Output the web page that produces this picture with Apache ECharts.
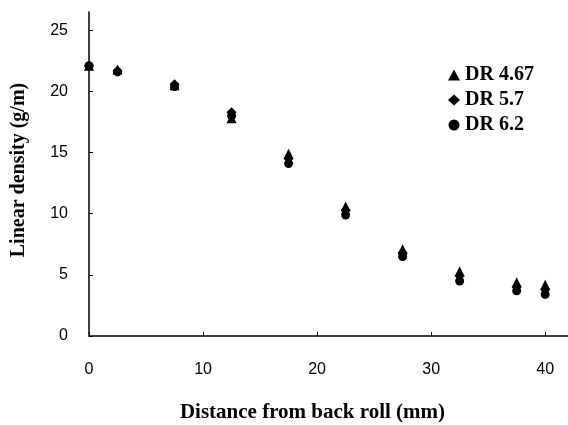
<!DOCTYPE html>
<html>
<head>
<meta charset="utf-8">
<script src="https://cdn.jsdelivr.net/npm/echarts@6/dist/echarts.min.js"></script>
<style>
  html, body { margin: 0; padding: 0; background: #fff; }
  #chart { width: 568px; height: 425px; }
</style>
</head>
<body>
<div id="chart"></div>
<script>
// distance from back roll (mm)
const distance = [0, 2.5, 7.5, 12.5, 17.5, 22.5, 27.5, 32.5, 37.5, 40];
// linear density (g/m) per draft ratio
const dr467 = [22.1, 21.8, 20.5, 17.8, 14.9, 10.6, 7.1, 5.3, 4.4, 4.2];
const dr57  = [22.1, 21.7, 20.6, 18.3, 14.5, 10.3, 6.8, 4.9, 4.0, 3.8];
const dr62  = [22.1, 21.6, 20.4, 18.0, 14.1, 9.9, 6.5, 4.5, 3.7, 3.4];
const seriesNames = ["DR 4.67", "DR 5.7", "DR 6.2"];
const xTicks = [0, 10, 20, 30, 40];
const yTicks = [0, 5, 10, 15, 20, 25];

const SERIF = "'Liberation Serif', 'DejaVu Serif', serif";
const SANS = "'Liberation Sans', Arial, sans-serif";
const pts = (ys) => distance.map((x, i) => [x, ys[i]]);

const chart = echarts.init(document.getElementById("chart"), null, { renderer: "canvas" });
chart.setOption({
  animation: false,
  grid: { left: 89, right: 0, top: 12, bottom: 89, containLabel: false, outerBoundsMode: "none" },
  legend: {
    orient: "vertical", left: 443, top: 60, itemGap: 5, itemWidth: 12, itemHeight: 11,
    textStyle: { fontFamily: SERIF, fontWeight: "bold", fontSize: 20, color: "#000" },
    data: [
      { name: seriesNames[0], icon: "triangle" },
      { name: seriesNames[1], icon: "diamond" },
      { name: seriesNames[2], icon: "circle" },
    ],
  },
  xAxis: {
    type: "value", min: 0, max: 42, interval: 10,
    name: "Distance from back roll (mm)", nameLocation: "middle", nameGap: 66,
    nameTextStyle: { fontFamily: SERIF, fontWeight: "bold", fontSize: 21, color: "#000", padding: [0, 32, 0, 0] },
    axisLine: { onZero: false, lineStyle: { color: "#000", width: 1.5 } },
    axisTick: { inside: true, length: 4, lineStyle: { color: "#000" } },
    axisLabel: { fontFamily: SANS, fontSize: 16, color: "#000", margin: 26,
      formatter: (v) => (xTicks.includes(v) ? String(v) : "") },
    splitLine: { show: false },
  },
  yAxis: {
    type: "value", min: 0, max: 26.5, interval: 5,
    name: "Linear density (g/m)", nameLocation: "middle", nameGap: 60,
    nameTextStyle: { fontFamily: SERIF, fontWeight: "bold", fontSize: 20, color: "#000", padding: [0, 0, 0, 8] },
    axisLine: { show: true, lineStyle: { color: "#000", width: 1.5 } },
    axisTick: { show: true, inside: true, length: 4, lineStyle: { color: "#000" } },
    axisLabel: { fontFamily: SANS, fontSize: 16, color: "#000", margin: 21, showMaxLabel: false,
      formatter: (v) => (yTicks.includes(v) ? String(v) : "") },
    splitLine: { show: false },
  },
  series: [
    { name: seriesNames[0], type: "scatter", symbol: "triangle", symbolSize: 10, itemStyle: { color: "#000", opacity: 1 }, data: pts(dr467) },
    { name: seriesNames[1], type: "scatter", symbol: "diamond", symbolSize: 10, itemStyle: { color: "#000", opacity: 1 }, data: pts(dr57) },
    { name: seriesNames[2], type: "scatter", symbol: "circle", symbolSize: 9, itemStyle: { color: "#000", opacity: 1 }, data: pts(dr62) },
  ],
});
</script>
</body>
</html>
